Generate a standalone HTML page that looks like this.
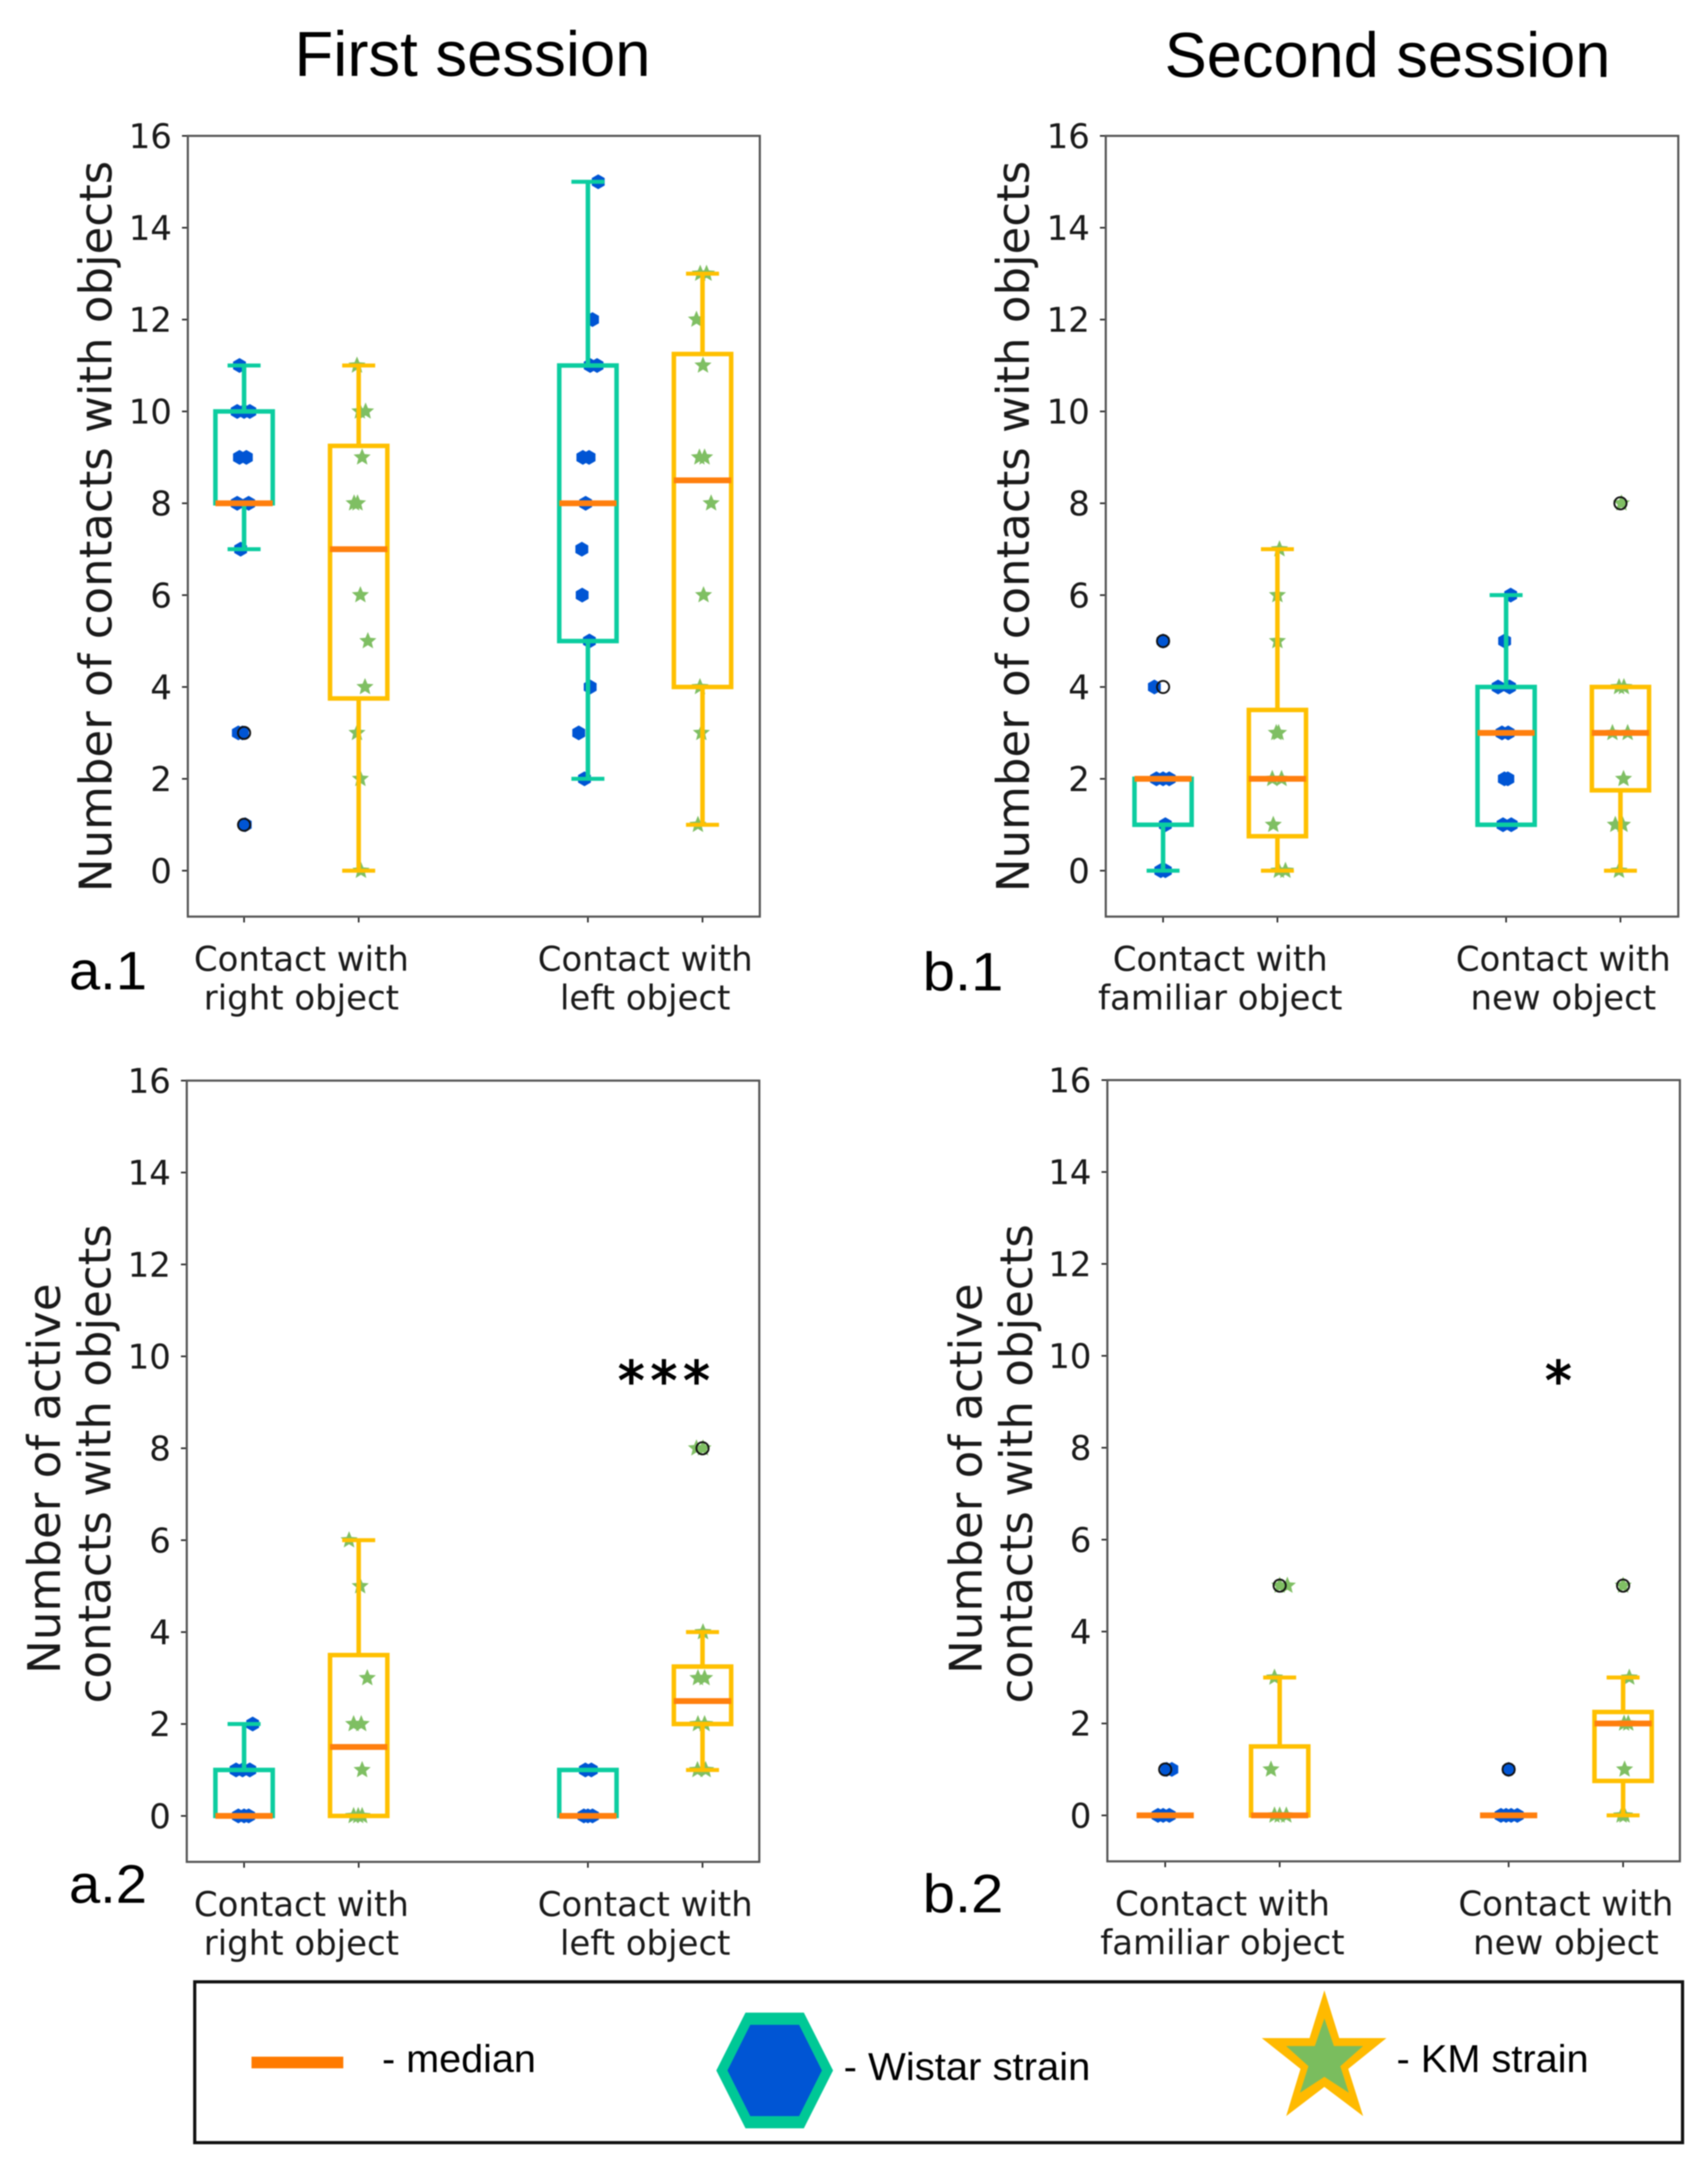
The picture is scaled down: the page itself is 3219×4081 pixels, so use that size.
<!DOCTYPE html>
<html lang="en">
<head>
<meta charset="utf-8">
<title>Contacts with objects by session</title>
<style>
html,body{margin:0;padding:0;background:#fff;}
svg{display:block;filter:blur(1px);}
.mpl{font-family:"DejaVu Sans",sans-serif;fill:#1a1a1a;}
.lib{font-family:"Liberation Sans",sans-serif;fill:#000;}
</style>
</head>
<body>
<svg id="figure" xmlns="http://www.w3.org/2000/svg" width="3219" height="4081" viewBox="0 0 3219 4081">
  <rect x="0" y="0" width="3219" height="4081" fill="#fff"/>
  <text class="lib" x="555" y="143" font-size="120" textLength="671" lengthAdjust="spacingAndGlyphs">First session</text>
  <text class="lib" x="2195" y="145" font-size="120" textLength="840" lengthAdjust="spacingAndGlyphs">Second session</text>
  <text class="lib" x="130" y="1864" font-size="102" textLength="147" lengthAdjust="spacingAndGlyphs">a.1</text>
  <text class="lib" x="1739" y="1866" font-size="102" textLength="152" lengthAdjust="spacingAndGlyphs">b.1</text>
  <text class="lib" x="130" y="3585" font-size="102" textLength="147" lengthAdjust="spacingAndGlyphs">a.2</text>
  <text class="lib" x="1739" y="3603" font-size="102" textLength="152" lengthAdjust="spacingAndGlyphs">b.2</text>
  <text class="mpl" transform="translate(210,992) rotate(-90)" text-anchor="middle" font-size="85" textLength="1378" lengthAdjust="spacingAndGlyphs">Number of contacts with objects</text>
  <text class="mpl" transform="translate(1939,992) rotate(-90)" text-anchor="middle" font-size="85" textLength="1378" lengthAdjust="spacingAndGlyphs">Number of contacts with objects</text>
  <text class="mpl" transform="translate(113,2786) rotate(-90)" text-anchor="middle" font-size="85">Number of active</text>
  <text class="mpl" transform="translate(208,2758) rotate(-90)" text-anchor="middle" font-size="85">contacts with objects</text>
  <text class="mpl" transform="translate(1850,2786) rotate(-90)" text-anchor="middle" font-size="85">Number of active</text>
  <text class="mpl" transform="translate(1945,2758) rotate(-90)" text-anchor="middle" font-size="85">contacts with objects</text>
  <g id="panels"></g>
  <text x="1257" y="2636" text-anchor="middle" font-family="DejaVu Sans, sans-serif" font-size="100" letter-spacing="11.5" fill="#000" stroke="#000" stroke-width="2.5">***</text>
  <text x="2937" y="2636" text-anchor="middle" font-family="DejaVu Sans, sans-serif" font-size="100" fill="#000" stroke="#000" stroke-width="2.5">*</text>
  <g>
    <rect x="367" y="3734" width="2804" height="303" fill="#fff" stroke="#111" stroke-width="6"/>
    <rect x="474" y="3875" width="173" height="22" fill="#FF7A00"/>
    <text class="lib" x="720" y="3904" font-size="73" textLength="290" lengthAdjust="spacingAndGlyphs">- median</text>
    <polygon points="1405,3792 1515,3792 1570,3901 1515,4010 1405,4010 1350,3901" fill="#00C896"/>
    <polygon points="1414,3815 1506,3815 1549,3901 1506,3987 1414,3987 1371,3901" fill="#0055D4"/>
    <text class="lib" x="1590" y="3919" font-size="73" textLength="465" lengthAdjust="spacingAndGlyphs">- Wistar strain</text>
    <polygon points="2496,3750 2524,3840 2613,3840 2541,3898 2569,3987 2496,3932 2424,3987 2451,3898 2378,3840 2468,3840" fill="#FFBA00"/>
    <polygon points="2496,3803 2514,3855 2569,3855 2526,3893 2542,3943 2496,3913 2450,3943 2466,3893 2424,3855 2478,3855" fill="#7ABD5E"/>
    <text class="lib" x="2632" y="3904" font-size="73" textLength="362" lengthAdjust="spacingAndGlyphs">- KM strain</text>
  </g>
</svg>
<script>
// ---- shared axis data ----
const yTickValues = [0, 2, 4, 6, 8, 10, 12, 14, 16];
const groupPositions = [1, 2, 4, 5];
const groupStrains = ['wistar', 'km', 'wistar', 'km'];
const firstCategories = [['Contact with', 'right object'], ['Contact with', 'left object']];
const secondCategories = [['Contact with', 'familiar object'], ['Contact with', 'new object']];

// ---- panel a.1 ----
const a1Q1 = [8, 3.75, 5, 4];
const a1Median = [8, 7, 8, 8.5];
const a1Q3 = [10, 9.25, 11, 11.25];
const a1WhiskerLow = [7, 0, 2, 1];
const a1WhiskerHigh = [11, 11, 15, 13];
const a1Outliers = [[3, 1], [], [], []];
const a1Group1Values = [11, 10, 10, 10, 9, 9, 8, 8, 7, 3, 3, 1];
const a1Group1Jitter = [-0.04, -0.06, 0, 0.05, -0.04, 0.02, -0.06, 0.04, -0.03, -0.05, -0.015, 0.01];
const a1Group2Values = [11, 10, 10, 9, 8, 8, 6, 5, 4, 3, 2, 0];
const a1Group2Jitter = [-0.015, 0.01, 0.06, 0.03, -0.04, -0.01, 0.015, 0.08, 0.055, -0.015, 0.015, 0.02];
const a1Group3Values = [15, 12, 11, 11, 9, 9, 8, 7, 6, 5, 4, 3, 2];
const a1Group3Jitter = [0.09, 0.04, 0.02, 0.08, -0.044, 0.01, -0.02, -0.053, -0.05, 0.013, 0.02, -0.08, -0.03];
const a1Group4Values = [13, 13, 12, 11, 9, 9, 8, 6, 4, 3, 1];
const a1Group4Jitter = [-0.02, 0.035, -0.053, 0.004, -0.027, 0.018, 0.075, 0.009, -0.022, -0.01, -0.04];

// ---- panel b.1 ----
const b1Q1 = [1, 0.75, 1, 1.75];
const b1Median = [2, 2, 3, 3];
const b1Q3 = [2, 3.5, 4, 4];
const b1WhiskerLow = [0, 0, 1, 0];
const b1WhiskerHigh = [2, 7, 6, 4];
const b1Outliers = [[5, 4], [], [], [8]];
const b1Group1Values = [5, 4, 2, 2, 2, 1, 0, 0];
const b1Group1Jitter = [0, -0.076, -0.058, 0, 0.054, 0.02, -0.02, 0.02];
const b1Group2Values = [7, 6, 5, 3, 3, 2, 2, 1, 0, 0];
const b1Group2Jitter = [0.018, 0, 0, -0.01, 0.01, -0.045, 0.036, -0.036, 0.013, 0.07];
const b1Group3Values = [6, 5, 4, 4, 3, 3, 2, 2, 1, 1];
const b1Group3Jitter = [0.04, -0.013, -0.07, 0.03, -0.036, 0.018, -0.015, 0.015, -0.027, 0.045];
const b1Group4Values = [8, 4, 4, 3, 3, 2, 1, 1, 0];
const b1Group4Jitter = [0.009, -0.012, 0.03, -0.07, 0.063, 0.027, -0.045, 0.018, -0.013];

// ---- panel a.2 ----
const a2Q1 = [0, 0, 0, 2];
const a2Median = [0, 1.5, 0, 2.5];
const a2Q3 = [1, 3.5, 1, 3.25];
const a2WhiskerLow = [0, 0, 0, 1];
const a2WhiskerHigh = [2, 6, 1, 4];
const a2Outliers = [[], [], [], [8]];
const a2Group1Values = [2, 1, 1, 1, 0, 0, 0];
const a2Group1Jitter = [0.075, -0.07, -0.013, 0.05, -0.05, 0, 0.04];
const a2Group2Values = [6, 5, 3, 2, 2, 1, 0, 0, 0];
const a2Group2Jitter = [-0.084, 0.013, 0.075, -0.044, 0.022, 0.03, -0.044, -0.004, 0.03];
const a2Group3Values = [1, 1, 0, 0, 0];
const a2Group3Jitter = [-0.022, 0.03, -0.035, 0, 0.04];
const a2Group4Values = [8, 8, 4, 3, 3, 2, 2, 1, 1];
const a2Group4Jitter = [-0.053, 0.004, 0.004, -0.04, 0.018, -0.04, 0.018, -0.044, 0.027];

// ---- panel b.2 ----
const b2Q1 = [0, 0, 0, 0.75];
const b2Median = [0, 0, 0, 2];
const b2Q3 = [0, 1.5, 0, 2.25];
const b2WhiskerLow = [0, 0, 0, 0];
const b2WhiskerHigh = [0, 3, 0, 3];
const b2Outliers = [[1], [5], [1], [5]];
const b2Group1Values = [1, 1, 0, 0, 0];
const b2Group1Jitter = [0.013, 0.058, -0.063, -0.018, 0.036];
const b2Group2Values = [5, 5, 3, 1, 0, 0, 0];
const b2Group2Jitter = [0, 0.067, -0.045, -0.076, -0.045, 0, 0.058];
const b2Group3Values = [1, 0, 0, 0, 0];
const b2Group3Jitter = [0, -0.067, -0.022, 0.022, 0.076];
const b2Group4Values = [5, 3, 2, 2, 1, 0, 0];
const b2Group4Jitter = [0, 0.054, 0.009, 0.045, 0.013, -0.013, 0.013];

// ---- assembling panels (layout kept apart from data) ----
const panelSeries = [
  { id: 'a1', cats: firstCategories, q1: a1Q1, med: a1Median, q3: a1Q3, lo: a1WhiskerLow, hi: a1WhiskerHigh, out: a1Outliers,
    vals: [a1Group1Values, a1Group2Values, a1Group3Values, a1Group4Values],
    jit: [a1Group1Jitter, a1Group2Jitter, a1Group3Jitter, a1Group4Jitter],
    frame: { l: 354, r: 1432, t: 256, b: 1727, x1: 460, x5: 1324 } },
  { id: 'b1', cats: secondCategories, q1: b1Q1, med: b1Median, q3: b1Q3, lo: b1WhiskerLow, hi: b1WhiskerHigh, out: b1Outliers,
    vals: [b1Group1Values, b1Group2Values, b1Group3Values, b1Group4Values],
    jit: [b1Group1Jitter, b1Group2Jitter, b1Group3Jitter, b1Group4Jitter],
    frame: { l: 2084, r: 3163, t: 256, b: 1727, x1: 2192, x5: 3054 } },
  { id: 'a2', cats: firstCategories, q1: a2Q1, med: a2Median, q3: a2Q3, lo: a2WhiskerLow, hi: a2WhiskerHigh, out: a2Outliers,
    vals: [a2Group1Values, a2Group2Values, a2Group3Values, a2Group4Values],
    jit: [a2Group1Jitter, a2Group2Jitter, a2Group3Jitter, a2Group4Jitter],
    frame: { l: 352, r: 1431, t: 2036, b: 3508, x1: 460, x5: 1324 } },
  { id: 'b2', cats: secondCategories, q1: b2Q1, med: b2Median, q3: b2Q3, lo: b2WhiskerLow, hi: b2WhiskerHigh, out: b2Outliers,
    vals: [b2Group1Values, b2Group2Values, b2Group3Values, b2Group4Values],
    jit: [b2Group1Jitter, b2Group2Jitter, b2Group3Jitter, b2Group4Jitter],
    frame: { l: 2087, r: 3166, t: 2035, b: 3507, x1: 2196, x5: 3059 } }
];

const NS = 'http://www.w3.org/2000/svg';
const TEAL = '#0CCDA0';
const AMBER = '#FFC000';
const ORANGE = '#FF7F0E';
const BLUE = '#0055D4';
const GREEN = '#7FBF63';
const root = document.getElementById('panels');

function make(parent, tag, props) {
  const el = document.createElementNS(NS, tag);
  for (const k in props) el.setAttribute(k, props[k]);
  parent.appendChild(el);
  return el;
}
function hexPoints(cx, cy, r) {
  const p = [];
  for (let i = 0; i < 6; i++) {
    const a = Math.PI / 3 * i + Math.PI / 2;
    p.push((cx + r * Math.cos(a)).toFixed(1) + ',' + (cy + r * Math.sin(a)).toFixed(1));
  }
  return p.join(' ');
}
function starPoints(cx, cy, r) {
  const p = [];
  for (let i = 0; i < 10; i++) {
    const a = -Math.PI / 2 + Math.PI / 5 * i;
    const rr = i % 2 ? r * 0.45 : r;
    p.push((cx + rr * Math.cos(a)).toFixed(1) + ',' + (cy + rr * Math.sin(a)).toFixed(1));
  }
  return p.join(' ');
}

panelSeries.forEach(function (panel) {
  const f = panel.frame;
  const unitX = (f.x5 - f.x1) / 4;
  const unitY = (f.b - f.t) / 17;
  const xAxis = function (v) { return f.x1 + (v - 1) * unitX; };
  const yAxis = function (v) { return f.b - (v + 1) * unitY; };

  const g = make(root, 'g', {});
  
  

  // y ticks
  yTickValues.forEach(function (v) {
    const y = yAxis(v);
    const tick = make(g, 'line', { x1: f.l - 11, x2: f.l, y1: y, y2: y, stroke: '#222', 'stroke-width': 3 });
    
    
    const label = make(g, 'text', { x: f.l - 30, y: y + 23, 'text-anchor': 'end', 'font-size': 64, 'class': 'mpl' });
    
    
    label.textContent = String(v);
  });

  // x ticks
  groupPositions.forEach(function (pos) {
    const x = xAxis(pos);
    const tick = make(g, 'line', { x1: x, x2: x, y1: f.b, y2: f.b + 11, stroke: '#222', 'stroke-width': 3 });
    
    
  });

  // category labels
  panel.cats.forEach(function (lines, ci) {
    const cx = xAxis(groupPositions[ci * 2] + 0.5);
    lines.forEach(function (txt, li) {
      const t = make(g, 'text', { x: cx, y: f.b + 102 + li * 73, 'text-anchor': 'middle', 'font-size': 64, 'class': 'mpl' });
      
      
      t.textContent = txt;
    });
  });

  // scatter points
  panel.vals.forEach(function (values, gi) {
    const strain = groupStrains[gi];
    values.forEach(function (v, i) {
      const cx = xAxis(groupPositions[gi] + panel.jit[gi][i]);
      const cy = yAxis(v);
      if (strain === 'wistar') {
        const m = make(g, 'polygon', { points: hexPoints(cx, cy, 14), fill: BLUE });
        
        
      } else {
        const m = make(g, 'polygon', { points: starPoints(cx, cy, 17), fill: GREEN });
        
        
      }
    });
  });

  // box plots
  groupPositions.forEach(function (pos, gi) {
    const color = groupStrains[gi] === 'wistar' ? TEAL : AMBER;
    const cx = xAxis(pos);
    const half = 0.25 * unitX;
    const cap = 0.144 * unitX;
    const yQ1 = yAxis(panel.q1[gi]);
    const yQ3 = yAxis(panel.q3[gi]);
    const yMed = yAxis(panel.med[gi]);
    const yLo = yAxis(panel.lo[gi]);
    const yHi = yAxis(panel.hi[gi]);

    const wLo = make(g, 'line', { x1: cx, x2: cx, y1: yQ1, y2: yLo, stroke: color, 'stroke-width': 8.5 });
    
    
    const wHi = make(g, 'line', { x1: cx, x2: cx, y1: yQ3, y2: yHi, stroke: color, 'stroke-width': 8.5 });
    
    
    const cLo = make(g, 'line', { x1: cx - cap, x2: cx + cap, y1: yLo, y2: yLo, stroke: color, 'stroke-width': 7.5 });
    
    
    const cHi = make(g, 'line', { x1: cx - cap, x2: cx + cap, y1: yHi, y2: yHi, stroke: color, 'stroke-width': 7.5 });
    
    
    const box = make(g, 'rect', { x: cx - half, y: yQ3, width: half * 2, height: yQ1 - yQ3, fill: 'none', stroke: color, 'stroke-width': 8.5 });
    
    
    const med = make(g, 'line', { x1: cx - half, x2: cx + half, y1: yMed, y2: yMed, stroke: ORANGE, 'stroke-width': 11 });
    
    

    panel.out[gi].forEach(function (v) {
      const o = make(g, 'circle', { cx: cx, cy: yAxis(v), r: 11.5, fill: 'none', stroke: '#111', 'stroke-width': 3.5 });
      
      
    });
  });

  // frame
  const frame = make(g, 'rect', { x: f.l, y: f.t, width: f.r - f.l, height: f.b - f.t, fill: 'none', stroke: '#555', 'stroke-width': 4 });
  
  
});
</script>
</body>
</html>
